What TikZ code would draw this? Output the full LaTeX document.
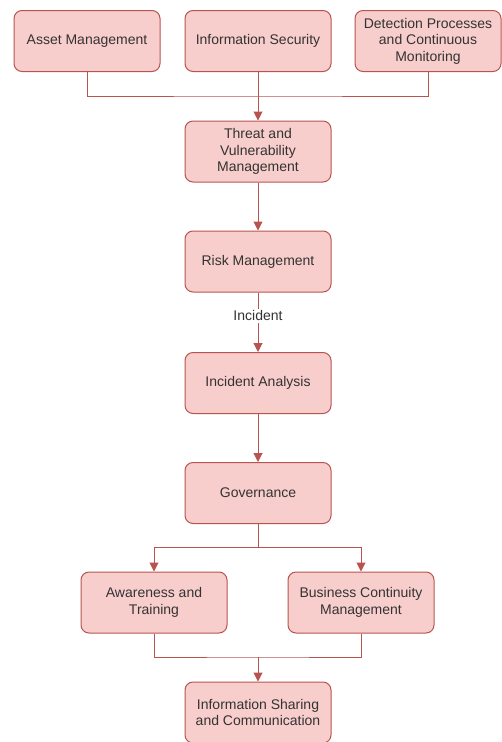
\documentclass[tikz,border=0pt]{standalone}
\usepackage{fontspec}
\setmainfont{Liberation Sans}
\usepackage{tikz}
\usetikzlibrary{arrows.meta}
\definecolor{boxfill}{HTML}{F8CECC}
\definecolor{boxline}{HTML}{B85450}
\tikzstyle{block} = [rectangle, rounded corners=8pt, draw=boxline, fill=boxfill, line width=1pt, minimum width=146pt, minimum height=61pt, align=center, inner sep=2pt, font=\fontsize{14}{16.5}\selectfont, text=black!80]
\tikzstyle{link} = [draw=boxline, line width=1pt]
\tikzstyle{arrow} = [link, -{Triangle[length=9pt,width=9pt]}]

\begin{document}
\begin{tikzpicture}[x=1pt, y=-1pt]
	\useasboundingbox (0,0) rectangle (502,742);

	% top row
	\node[block] (asset) at (87,41) {Asset Management};
	\node[block] (infosec) at (258,41) {Information Security};
	\node[block] (detect) at (428,41) {Detection Processes\\and Continuous\\Monitoring};

	% main column
	\node[block] (threat) at (258,151.5) {Threat and\\Vulnerability\\Management};
	\node[block] (risk) at (258,261.5) {Risk Management};
	\node[block] (incan) at (258,383) {Incident Analysis};
	\node[block] (gov) at (258,493) {Governance};

	% split
	\node[block] (aware) at (154,602.5) {Awareness and\\Training};
	\node[block] (bcm) at (361,602.5) {Business Continuity\\Management};
	\node[block] (share) at (258,712.5) {Information Sharing\\and Communication};

	\coordinate (topjoin) at (258,96);
	\coordinate (govsplit) at (258,547);
	\coordinate (sharejoin) at (258,657);

	\draw[link] (asset.south) |- (topjoin) -| (detect.south);
	\draw[arrow] (infosec.south) -- (threat.north);
	\draw[arrow] (threat.south) -- (risk.north);
	\draw[arrow] (risk.south) -- node[pos=0.39, fill=white, inner sep=2pt, font=\fontsize{14}{16.5}\selectfont, text=black!80] {Incident} (incan.north);
	\draw[arrow] (incan.south) -- (gov.north);

	\draw[link] (gov.south) -- (govsplit);
	\draw[arrow] (govsplit) -| (aware.north);
	\draw[arrow] (govsplit) -| (bcm.north);

	\draw[link] (aware.south) |- (sharejoin) -| (bcm.south);
	\draw[arrow] (sharejoin) -- (share.north);
\end{tikzpicture}
\end{document}
